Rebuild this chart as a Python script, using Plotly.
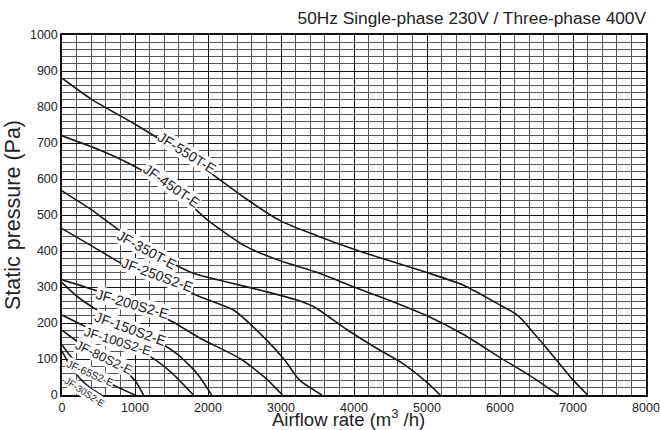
import numpy as np
import plotly.graph_objects as go

# ---- data ----
models = ["JF-550T-E", "JF-450T-E", "JF-350T-E", "JF-250S2-E", "JF-200S2-E",
          "JF-150S2-E", "JF-100S2-E", "JF-80S2-E", "JF-65S2-E", "JF-30S2-E"]

q_550 = [0, 400, 1000, 1500, 2000, 2500, 3000, 3500, 4000, 4500, 5000, 5500, 6000, 6250, 6500, 6750, 7000, 7200]
p_550 = [880, 822, 752, 690, 622, 548, 483, 442, 405, 372, 340, 305, 250, 220, 163, 103, 42, 0]

q_450 = [0, 500, 900, 1500, 2000, 2500, 3000, 3500, 4000, 4500, 5000, 5500, 6000, 6400, 6800]
p_450 = [720, 682, 645, 575, 485, 415, 372, 340, 300, 262, 220, 168, 104, 55, 0]

q_350 = [0, 400, 800, 1200, 1800, 2300, 2800, 3200, 3450, 3900, 4350, 4650, 5000, 5180]
p_350 = [567, 515, 455, 400, 338, 312, 287, 265, 245, 182, 125, 90, 35, 0]

q_250 = [0, 400, 900, 1300, 1900, 2350, 2800, 3050, 3250, 3560]
p_250 = [462, 415, 356, 328, 272, 236, 153, 97, 42, 0]

q_200 = [0, 500, 967, 1500, 1900, 2450, 2800, 3020]
p_200 = [320, 288, 253, 205, 157, 100, 45, 0]

q_150 = [0, 200, 450, 944, 1300, 1600, 1850, 2050]
p_150 = [312, 275, 240, 183, 150, 110, 60, 0]

q_100 = [0, 300, 772, 1200, 1500, 1800]
p_100 = [222, 192, 148, 108, 62, 0]

q_80 = [0, 200, 576, 850, 1000, 1116]
p_80 = [180, 150, 104, 68, 40, 0]

q_65 = [0, 150, 384, 700, 1000]
p_65 = [139, 100, 60, 28, 0]

q_30 = [0, 100, 250, 400, 545]
p_30 = [122, 85, 45, 18, 0]

curves_q = [q_550, q_450, q_350, q_250, q_200, q_150, q_100, q_80, q_65, q_30]
curves_p = [p_550, p_450, p_350, p_250, p_200, p_150, p_100, p_80, p_65, p_30]

# label anchor positions (data units) and styling
label_q = [1711, 1505, 1162, 1310, 967, 944, 772, 576, 384, 302]
label_p = [671, 581, 403, 333, 253, 183, 148, 104, 60, 9]
label_angle = [32, 35, 29, 20, 16, 20, 17, 26, 24, 33]
label_size = [14, 14, 14, 14, 14, 14, 13, 13, 10.5, 9.5]

x_ticks = [0, 1000, 2000, 3000, 4000, 5000, 6000, 7000, 8000]
y_ticks = [0, 100, 200, 300, 400, 500, 600, 700, 800, 900, 1000]

FONT = "Liberation Sans, Arial, Helvetica, sans-serif"

fig = go.Figure()
for name, q, p in zip(models, curves_q, curves_p):
    fig.add_trace(go.Scatter(
        x=q, y=p, mode="lines", name=name,
        line=dict(color="#1a1a1a", width=1.6, shape="spline", smoothing=0.6),
        showlegend=False, hoverinfo="skip"))

for name, lx, ly, ang, fs in zip(models, label_q, label_p, label_angle, label_size):
    fig.add_annotation(
        x=lx, y=ly, xref="x", yref="y", text=name, showarrow=False,
        textangle=ang, bgcolor="white", borderpad=0,
        font=dict(family=FONT, size=fs, color="#1a1a1a"))

# x-axis title placed as a paper annotation below the tick labels
fig.add_annotation(
    text="Airflow rate (m<sup>3</sup> /h)", xref="paper", yref="paper",
    x=0.49, y=-0.063, xanchor="center", yanchor="middle", showarrow=False,
    font=dict(family=FONT, size=18.5, color="#222"))

fig.update_layout(
    width=660, height=430,
    margin=dict(l=62, r=14, t=35, b=35, autoexpand=False),
    paper_bgcolor="white", plot_bgcolor="white",
    font=dict(family=FONT, color="#222"),
    title=dict(text="50Hz Single-phase 230V / Three-phase 400V",
               x=1, xref="paper", xanchor="right",
               y=1 - 18 / 430, yref="container", yanchor="middle",
               font=dict(family=FONT, size=17.3, color="#222"),
               automargin=False),
)

fig.update_xaxes(
    range=[0, 8000], tickvals=x_ticks, ticktext=[str(v) for v in x_ticks],
    showgrid=True, gridcolor="#111", gridwidth=1.2,
    minor=dict(dtick=200, tick0=0, showgrid=True, gridcolor="#555", gridwidth=1),
    showline=True, linecolor="#111", linewidth=1.5, mirror=True,
    ticks="", zeroline=False, automargin=False,
    tickfont=dict(family=FONT, size=12.5, color="#222"),
)
fig.update_yaxes(
    range=[0, 1000], tickvals=y_ticks, ticktext=[str(v) for v in y_ticks],
    showgrid=True, gridcolor="#111", gridwidth=1.2,
    minor=dict(dtick=20, tick0=0, showgrid=True, gridcolor="#555", gridwidth=1),
    showline=True, linecolor="#111", linewidth=1.5, mirror=True,
    ticks="", zeroline=False, automargin=False,
    tickfont=dict(family=FONT, size=12.5, color="#222"),
    title=dict(text="Static pressure (Pa)", standoff=3,
               font=dict(family=FONT, size=21.5, color="#222")),
)

fig.write_html("out.html", config={"displayModeBar": False},
               post_script="document.body.style.margin='0';document.body.style.overflow='hidden';")
